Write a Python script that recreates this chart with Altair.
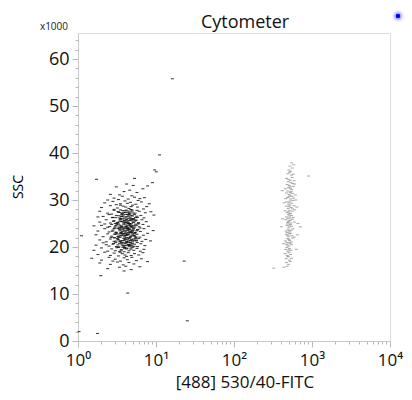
import altair as alt
import pandas as pd

# ---- data: FITC (linear units), SSC (x1000) ----
black_events = [
    (3.1,32.8),(4.6,32.1),(5.7,31.6),(3.9,31.8),(2.6,31.2),(6.8,32.4),(4.2,33.4),(7.8,33.0),(3.4,31.1),(5.1,33.1),
    (2.9,30.4),(3.7,30.8),(4.4,30.2),(5.3,30.6),(6.2,30.3),(2.4,30.0),(4.9,30.9),(7.1,30.5),(3.3,30.1),
    (2.2,29.4),(2.8,29.7),(3.5,29.2),(4.0,29.8),(4.7,29.5),(5.5,29.1),(6.5,29.6),(3.1,29.0),(4.3,29.3),(8.2,29.2),(5.9,29.9),
    (2.0,28.4),(2.6,28.8),(3.2,28.3),(3.8,28.7),(4.5,28.2),(5.0,28.9),(5.8,28.5),(6.9,28.1),(4.1,28.5),(3.5,28.9),(7.6,28.6),(2.9,28.0),(4.8,28.6),
    (1.9,27.6),(2.4,27.2),(2.9,27.8),(3.3,27.4),(3.7,27.1),(4.0,27.7),(4.4,27.3),(4.9,27.9),(5.4,27.2),(6.1,27.6),(7.3,27.3),(3.5,27.9),(4.6,27.0),(5.7,27.8),(2.7,27.0),(8.6,27.5),
    (2.1,26.5),(2.5,26.9),(2.8,26.3),(3.1,26.7),(3.4,26.2),(3.8,26.8),(4.1,26.4),(4.3,26.9),(4.7,26.1),(5.0,26.6),(5.3,26.9),(5.8,26.3),(6.4,26.7),(7.0,26.2),(3.6,26.5),(4.5,26.6),(1.8,26.4),(9.4,26.8),
    (1.9,25.3),(2.3,25.8),(2.6,25.1),(2.9,25.6),(3.2,25.2),(3.5,25.9),(3.7,25.4),(4.0,25.1),(4.2,25.7),(4.4,25.3),(4.8,25.9),(5.1,25.2),(5.5,25.6),(6.0,25.1),(6.6,25.8),(7.5,25.4),(3.9,25.6),(4.6,25.0),(5.2,25.8),(3.0,25.0),
    (2.0,24.6),(2.4,24.2),(2.7,24.8),(3.0,24.3),(3.3,24.9),(3.6,24.4),(3.8,24.1),(4.1,24.7),(4.3,24.2),(4.5,24.9),(4.9,24.4),(5.2,24.0),(5.6,24.6),(6.1,24.3),(6.8,24.8),(8.0,24.4),(3.4,24.0),(4.7,24.6),(5.9,24.9),(4.0,24.3),(2.2,24.9),(1.6,24.5),
    (1.8,23.4),(2.2,23.9),(2.5,23.2),(2.8,23.6),(3.1,23.1),(3.4,23.7),(3.7,23.3),(3.9,23.9),(4.1,23.0),(4.3,23.5),(4.6,23.8),(4.8,23.2),(5.1,23.6),(5.4,23.1),(5.8,23.7),(6.3,23.3),(7.0,23.9),(3.6,23.0),(4.4,23.9),(5.0,23.4),(2.9,23.9),(9.2,23.5),
    (1.7,22.6),(2.1,22.2),(2.4,22.8),(2.7,22.3),(3.0,22.7),(3.3,22.1),(3.6,22.5),(3.8,22.9),(4.0,22.4),(4.2,22.0),(4.5,22.6),(4.7,22.2),(5.0,22.8),(5.3,22.3),(5.7,22.7),(6.2,22.1),(6.9,22.5),(7.8,22.9),(3.5,22.9),(4.3,22.6),(2.9,22.0),(5.5,22.0),
    (1.9,21.5),(2.3,21.1),(2.6,21.7),(2.9,21.2),(3.2,21.8),(3.5,21.3),(3.7,21.0),(4.0,21.6),(4.2,21.2),(4.4,21.9),(4.7,21.4),(5.0,21.1),(5.2,21.7),(5.6,21.3),(6.0,21.8),(6.6,21.2),(7.4,21.6),(3.9,21.4),(4.6,21.0),(3.3,21.5),(8.5,21.3),
    (1.7,20.4),(2.1,20.9),(2.5,20.2),(2.8,20.6),(3.1,20.1),(3.4,20.8),(3.7,20.4),(3.9,20.0),(4.1,20.7),(4.4,20.3),(4.7,20.9),(4.9,20.2),(5.3,20.6),(5.8,20.1),(6.4,20.7),(7.2,20.3),(3.6,20.9),(4.5,20.5),(2.3,20.5),
    (1.6,19.3),(2.0,19.8),(2.4,19.1),(2.7,19.6),(3.0,19.2),(3.3,19.9),(3.6,19.4),(3.9,19.0),(4.2,19.6),(4.5,19.2),(4.8,19.8),(5.2,19.3),(5.7,19.7),(6.3,19.1),(7.0,19.5),(4.0,19.9),(3.4,19.0),
    (1.8,18.4),(2.2,18.9),(2.6,18.2),(2.9,18.7),(3.3,18.1),(3.7,18.6),(4.0,18.3),(4.4,18.8),(4.8,18.2),(5.3,18.6),(6.0,18.3),(6.8,18.8),(3.5,18.9),(4.2,18.0),
    (1.5,17.6),(2.0,17.2),(2.5,17.8),(3.0,17.4),(3.5,17.0),(3.9,17.7),(4.3,17.3),(4.9,17.8),(5.6,17.1),(6.5,17.5),(2.8,17.0),
    (1.9,16.6),(2.6,16.3),(3.2,16.8),(3.8,16.2),(4.5,16.7),(5.2,16.4),(7.8,16.9),(4.1,15.9),
    (2.4,15.4),(3.4,15.7),(4.8,15.2),(6.2,15.8),(3.9,14.9),
    (11.1,39.6),(16.2,55.8),(9.6,36.4),(10.1,36.0),(1.73,34.4),(5.3,34.6),(9.0,33.7),(23.0,17.0),
    (25.2,4.3),(4.34,10.2),(1.96,13.9),(1.03,2.0),(1.78,1.6),(1.11,22.4),
]

# dense core of the same population
black_core = [
    (3.05,24.55),(4.25,25.35),(3.55,22.35),(4.85,23.05),(3.95,26.15),(4.35,21.55),(5.45,24.85),(2.75,23.35),(3.25,20.45),(4.65,27.45),
    (3.75,23.65),(4.15,24.05),(5.05,22.55),(3.45,25.75),(4.55,20.15),(3.85,21.85),(5.65,23.45),(2.95,21.95),(4.05,26.95),(4.45,22.95),
    (3.35,24.25),(4.95,25.55),(3.65,27.05),(5.25,21.35),(4.75,24.35),(3.15,22.85),(4.25,19.75),(5.95,25.15),(3.55,19.35),(4.05,23.25),
    (2.85,25.45),(4.65,26.35),(3.45,21.15),(5.15,26.05),(4.35,23.75),(3.85,24.85),(4.95,20.75),(3.05,26.25),(5.55,22.15),(4.15,27.85),
    (3.65,20.65),(4.45,25.05),(3.25,23.95),(5.35,24.25),(4.85,21.65),(3.95,22.15),(2.65,22.05),(4.55,23.35),(3.75,25.95),(5.05,27.25),
    (4.25,22.65),(3.35,26.65),(4.75,19.55),(3.55,24.15),(5.75,20.95),(4.05,20.35),(3.15,19.85),(4.65,22.05),(3.85,27.35),(5.25,25.35),
    (4.35,24.55),(2.95,24.05),(4.85,26.75),(3.45,23.45),(5.45,21.75),(3.95,19.65),(4.15,25.85),(3.65,21.35),(4.55,27.15),(5.15,23.85),
    (3.25,27.55),(4.45,20.55),(3.75,22.75),(4.95,24.15),(3.05,21.25),(5.65,26.55),(4.25,26.45),(3.55,26.05),(4.75,23.15),(2.55,24.35),
    (3.85,20.25),(4.65,24.75),(3.35,22.55),(5.05,19.95),(4.05,25.25),(3.95,23.55),(4.35,27.65),(5.35,22.85),(3.15,25.05),(4.85,22.35),
    (3.65,23.85),(4.15,21.05),(5.85,23.65),(3.45,27.35),(4.55,21.85),(2.85,20.75),(4.95,27.65),(3.75,26.45),(4.45,23.05),(5.25,20.15),
    (3.25,21.65),(4.05,22.85),(3.55,25.45),(4.75,25.75),(3.95,20.85),(5.45,26.25),(4.25,23.95),(3.05,23.15),(4.65,20.35),(3.85,25.15),
    (4.35,26.05),(5.15,24.55),(3.35,20.05),(4.85,24.95),(3.65,24.45),(4.15,22.45),(2.75,26.25),(5.55,25.75),(4.45,21.25),(3.45,22.05),
    (4.95,21.45),(3.75,19.95),(4.55,25.65),(3.15,24.75),(5.05,25.95),(4.05,27.35),(3.95,25.55),(4.65,23.65),(3.25,22.25),(5.35,23.05),
    (4.25,20.95),(3.55,23.05),(4.75,27.95),(3.85,22.55),(6.25,24.05),(4.35,25.05),(2.95,22.75),(5.25,22.45),(4.15,24.35),(3.65,26.85),
    (4.85,20.45),(3.45,24.65),(4.45,26.85),(3.05,20.95),(5.65,21.45),(4.05,21.75),(3.75,27.75),(4.55,24.05),(3.35,25.35),(4.95,23.45),
]

gray_events = [
    (549,37.9),(520,37.2),(585,37.5),
    (505,36.4),(560,36.8),(530,36.1),
    (902,35.1),(490,35.6),(545,35.3),(515,35.9),(575,35.5),
    (470,34.6),(525,34.2),(555,34.8),(500,34.4),(590,34.1),
    (480,33.3),(535,33.7),(510,33.1),(565,33.5),(495,33.9),(600,33.4),
    (455,32.4),(520,32.8),(545,32.2),(500,32.6),(575,32.9),(530,32.5),(415,32.0),
    (470,31.5),(510,31.2),(540,31.8),(490,31.9),(560,31.4),(525,31.6),(610,31.1),
    (460,30.3),(505,30.7),(530,30.2),(555,30.8),(485,30.5),(520,30.9),(580,30.4),(620,30.0),
    (475,29.6),(500,29.1),(525,29.8),(550,29.3),(510,29.5),(570,29.9),(440,29.4),
    (465,28.7),(495,28.2),(520,28.9),(540,28.4),(505,28.6),(565,28.1),(590,28.8),(640,28.5),
    (480,27.3),(510,27.8),(530,27.1),(555,27.6),(495,27.5),(520,27.2),(600,27.9),(450,27.7),
    (470,26.4),(500,26.9),(525,26.2),(545,26.7),(490,26.1),(515,26.6),(575,26.3),(420,26.0),
    (460,25.8),(485,25.2),(510,25.6),(535,25.1),(560,25.9),(500,25.4),(525,25.7),(595,25.3),(660,25.0),
    (405,24.3),(708,24.3),(475,24.6),(505,24.2),(530,24.8),(550,24.4),(490,24.9),(515,24.5),
    (465,23.4),(495,23.8),(520,23.2),(545,23.6),(480,23.1),(510,23.5),(570,23.9),
    (470,22.7),(500,22.2),(525,22.9),(550,22.4),(485,22.5),(515,22.8),(590,22.1),(650,22.6),
    (455,21.3),(490,21.8),(515,21.4),(540,21.1),(505,21.6),(565,21.9),(475,21.0),
    (470,20.6),(500,20.2),(525,20.8),(485,20.4),(545,20.5),(510,20.9),(430,20.7),
    (460,19.5),(490,19.1),(515,19.7),(535,19.3),(475,19.9),(505,19.4),(630,19.5),
    (450,18.6),(480,18.2),(505,18.8),(530,18.4),(495,18.0),
    (465,17.5),(490,17.9),(515,17.2),(545,17.6),
    (470,16.7),(500,16.3),(525,16.9),
    (323,15.5),(437,15.7),(480,15.9),
]

x_tick_values = [1,2,3,4,5,6,7,8,9,10,20,30,40,50,60,70,80,90,
                 100,200,300,400,500,600,700,800,900,
                 1000,2000,3000,4000,5000,6000,7000,8000,9000,10000]
y_tick_values = list(range(0, 66, 2))
x_domain = [1, 10000]
y_domain = [0, 65.536]

FONT = "Open Sans"
INK = "#111111"
W, H = 312, 308

rows = [{"fitc": x, "ssc": y, "pop": "A"} for x, y in black_events + black_core] + \
       [{"fitc": x, "ssc": y, "pop": "B"} for x, y in gray_events]
df = pd.DataFrame(rows)

x_label_expr = ("datum.value === 1 ? '10⁰' : datum.value === 10 ? '10¹' : "
                "datum.value === 100 ? '10²' : datum.value === 1000 ? '10³' : "
                "datum.value === 10000 ? '10⁴' : ''")
x_major = "indexof([1,10,100,1000,10000], datum.value) >= 0"

x_enc = alt.X(
    "fitc:Q",
    scale=alt.Scale(type="log", domain=x_domain, nice=False),
    axis=alt.Axis(
        title="", values=x_tick_values, labelExpr=x_label_expr,
        grid=False, tickColor="#b8b8b8", domainColor="#c8c8c8",
        tickSize={"condition": {"test": x_major, "value": 6}, "value": 3},
        labelFont=FONT, labelFontSize=17, labelColor=INK,
        labelBaseline="alphabetic", labelPadding=18, labelFlush=False,
        labelOverlap=False,
    ),
)
y_enc = alt.Y(
    "ssc:Q",
    scale=alt.Scale(domain=y_domain, nice=False, zero=True),
    axis=alt.Axis(
        title="", values=y_tick_values,
        labelExpr="datum.value % 10 === 0 ? datum.value : ''",
        grid=False, tickColor="#b8b8b8", domainColor="#c8c8c8",
        tickSize={"condition": {"test": "datum.value % 10 === 0", "value": 6}, "value": 3},
        labelFont=FONT, labelFontSize=18, labelColor=INK, labelPadding=3,
        labelOverlap=False, labelFlush=False,
    ),
)

points = alt.Chart(df).mark_tick(orient="horizontal", size=3, thickness=1.1).encode(
    x=x_enc,
    y=y_enc,
    color=alt.Color("pop:N", scale=alt.Scale(domain=["A", "B"], range=["#000000", "#9a9a9a"]), legend=None),
    opacity=alt.Opacity("pop:N", scale=alt.Scale(domain=["A", "B"], range=[0.75, 0.8]), legend=None),
)

one = pd.DataFrame({"k": [0]})
scale_note = alt.Chart(one).mark_text(text="x1000", font=FONT, fontSize=10, align="right",
                                      baseline="middle", color="#222").encode(
    x=alt.value(-10), y=alt.value(-6))
y_title = alt.Chart(one).mark_text(text="SSC", font=FONT, fontSize=14, align="center",
                                   baseline="alphabetic", angle=270, color="#000000").encode(
    x=alt.value(-55), y=alt.value(154))
main_title = alt.Chart(one).mark_text(text="Cytometer", font=FONT, fontSize=18, align="center",
                                      baseline="alphabetic", color=INK).encode(
    x=alt.value(167), y=alt.value(-5))
x_title = alt.Chart(one).mark_text(text="[488] 530/40-FITC", font=FONT, fontSize=17, align="center",
                                   baseline="alphabetic", color=INK).encode(
    x=alt.value(167), y=alt.value(H + 47))

glow = [
    alt.Chart(one).mark_circle(color="#0000ff", opacity=op, size=sz).encode(
        x=alt.value(320), y=alt.value(-17))
    for sz, op in [(150, 0.06), (90, 0.1), (50, 0.16), (20, 1.0)]
]

chart = alt.layer(points, scale_note, y_title, main_title, x_title, *glow).properties(
    width=W, height=H,
    autosize=alt.AutoSizeParams(type="none"),
    padding={"left": 70, "top": 25, "right": 14, "bottom": 51},
).configure_view(stroke="#c8c8c8", strokeWidth=1.2).configure(background="white")

chart.save("out.html", embed_options={"renderer": "svg", "actions": False})
